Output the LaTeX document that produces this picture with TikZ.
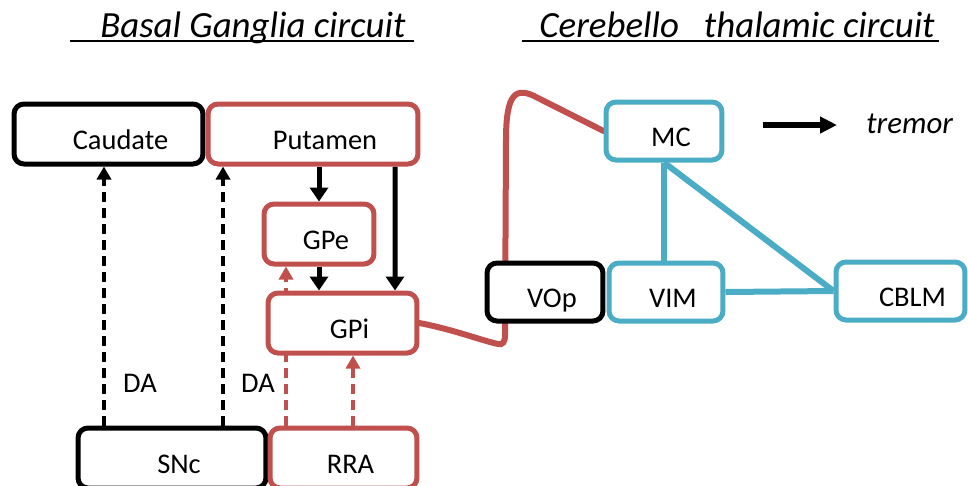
\documentclass[tikz,border=0pt]{standalone}
\usepackage{fontspec}
\setmainfont{Carlito}
\usepackage{tikz}
\usetikzlibrary{calc,arrows.meta,backgrounds}
\definecolor{bgred}{HTML}{C0504D}
\definecolor{ctblue}{HTML}{4BACC6}
\tikzset{
  txtpad/.store in=\txtpad, txtpad=2.8mm,
  box/.style={draw=#1, fill=white, rounded corners=2mm, line width=1mm,
    minimum height=12mm, inner sep=0pt, text height=6mm, text depth=0pt,
    font=\fontsize{16.2}{19}\selectfont,
    execute at begin node={\hspace*{\txtpad}}},
  rbox/.style={box=#1, minimum height=11.6mm},
  feed/.style={draw=black, line width=1mm, -{Triangle[width=3.6mm,length=2.8mm]}},
  da/.style={draw=#1, line width=0.7mm, dash pattern=on 2mm off 1.2mm,
    -{Triangle[width=2.8mm,length=2.6mm]}},
  link/.style={draw=ctblue, line width=1.2mm},
  wire/.style={draw=bgred, line width=1.2mm, line cap=round},
  title/.style={font=\itshape\fontsize{21}{24}\selectfont, inner sep=0pt},
  uline/.style={draw=black, line width=0.4mm},
  lab/.style={font=\fontsize{16.2}{19}\selectfont, inner sep=0pt}
}

\begin{document}
\begin{tikzpicture}[x=0.02cm,y=-0.02cm]
  \useasboundingbox (0,0) rectangle (968,485);

  % basal ganglia
  \node[box=black, minimum width=37.8mm, txtpad=4.8mm] (Caudate) at (108.5,134) {Caudate};
  \node[box=bgred, minimum width=42mm, txtpad=4.8mm] (Putamen) at (313,134) {Putamen};
  \node[box=bgred, minimum width=22mm] (GPe) at (319,234) {GPe};
  \node[box=bgred, minimum width=29.8mm] (GPi) at (342.5,323) {GPi};
  \node[box=black, minimum width=37.6mm] (SNc) at (172,458) {SNc};
  \node[box=bgred, minimum width=29.4mm] (RRA) at (343.5,458) {RRA};

  % cerebello-thalamic
  \node[rbox=ctblue, minimum width=23.2mm] (MC) at (664,131) {MC};
  \node[rbox=black, minimum width=23.2mm] (VOp) at (545,292) {VOp};
  \node[rbox=ctblue, minimum width=22.8mm] (VIM) at (666,292) {VIM};
  \node[rbox=ctblue, minimum width=25.8mm, txtpad=4.8mm] (CBLM) at (900.5,291) {CBLM};

  \node[lab] (da1) at (140,383) {DA};
  \node[lab] (da2) at (258,383) {DA};

  \begin{scope}[on background layer]
    \draw[da=black] ($(SNc.north)+(-68,0)$) -- ($(Caudate.south)+(-4.5,0)$);
    \draw[da=black] ($(SNc.north)+(51,0)$) -- ($(Putamen.south)+(-90,0)$);
    \draw[da=bgred] ($(RRA.north)+(-57.5,0)$) -- ($(GPe.south)+(-33,0)$);
    \draw[da=bgred] ($(RRA.north)+(9.5,0)$) -- ($(GPi.south)+(10.5,0)$);

    \draw[feed] (Putamen.south -| GPe.north) -- (GPe.north);
    \draw[feed] (GPe.south) -- (GPe.south |- GPi.north);
    \draw[feed] ($(Putamen.south)+(82,0)$) -- ($(GPi.north)+(52.5,0)$);

    \draw[link] (MC.south) -- (MC.south |- VIM.north);
    \draw[link] (MC.south) -- (CBLM.west);
    \draw[link] (VIM.east) -- (CBLM.west);

    \draw[wire] (GPi.east) .. controls (455,330) and (480,340) .. (498,344)
      .. controls (503,345) and (505,342) .. (505,335)
      -- (506,140) .. controls (506,92) and (516,86) .. (538,98)
      -- (MC.west);
  \end{scope}

  % output
  \node[lab, font=\itshape\fontsize{17.6}{20}\selectfont, anchor=base west] (tremor) at (866,133) {tremor};
  \coordinate (trA) at (763,125);
  \coordinate (trB) at (837,125);
  \draw[line width=1.2mm, -{Triangle[width=3.2mm,length=3.4mm]}] (trA) -- (trB);

  % headings
  \node[title, anchor=base west] (bgTitle) at (100,37) {Basal Ganglia circuit};
  \draw[uline] ($(bgTitle.base west)+(-30,4)$) -- ($(bgTitle.base east)+(8,4)$);
  \node[title, anchor=base west] (ctTitle) at (539,37) {Cerebello\ \ \ thalamic circuit};
  \draw[uline] ($(ctTitle.base west)+(-17,4)$) -- ($(ctTitle.base east)+(4,4)$);
\end{tikzpicture}
\end{document}
